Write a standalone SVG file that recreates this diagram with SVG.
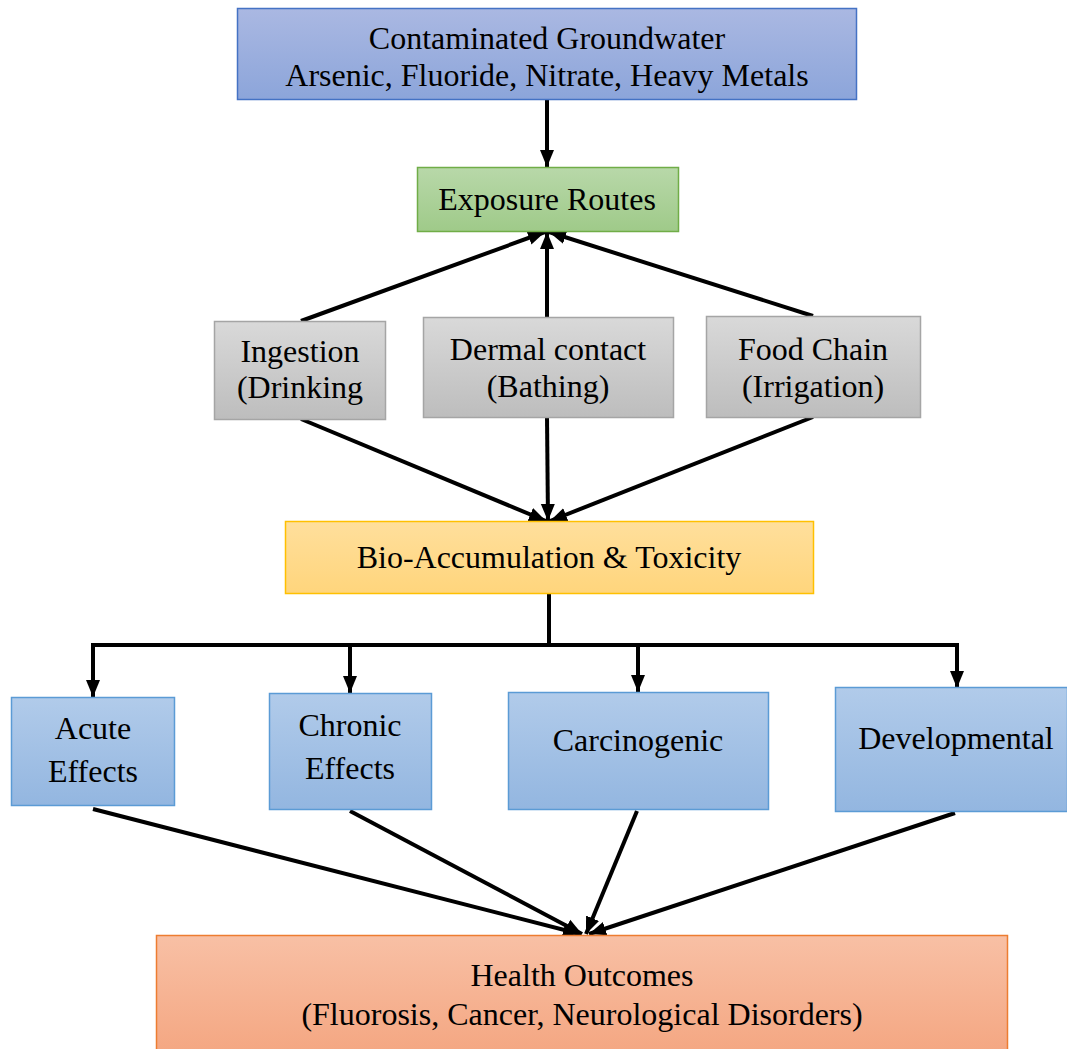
<svg xmlns="http://www.w3.org/2000/svg" width="1067" height="1049" viewBox="0 0 1067 1049">
<defs>
<linearGradient id="gBlueTop" x1="0" y1="0" x2="0" y2="1"><stop offset="0" stop-color="#aab8e2"/><stop offset="1" stop-color="#8ca5da"/></linearGradient>
<linearGradient id="gGreen" x1="0" y1="0" x2="0" y2="1"><stop offset="0" stop-color="#b8d8a9"/><stop offset="1" stop-color="#9fca89"/></linearGradient>
<linearGradient id="gGray" x1="0" y1="0" x2="0" y2="1"><stop offset="0" stop-color="#d9d9d9"/><stop offset="1" stop-color="#bdbdbd"/></linearGradient>
<linearGradient id="gYellow" x1="0" y1="0" x2="0" y2="1"><stop offset="0" stop-color="#ffdf9c"/><stop offset="1" stop-color="#ffd57c"/></linearGradient>
<linearGradient id="gBlue" x1="0" y1="0" x2="0" y2="1"><stop offset="0" stop-color="#b1cbea"/><stop offset="1" stop-color="#93b6e0"/></linearGradient>
<linearGradient id="gOrange" x1="0" y1="0" x2="0" y2="1"><stop offset="0" stop-color="#f8c0a5"/><stop offset="1" stop-color="#f4a681"/></linearGradient>
<marker id="arr" markerUnits="userSpaceOnUse" markerWidth="18" markerHeight="18" viewBox="0 0 18 18" refX="17" refY="9" orient="auto">
<path d="M0,2 L17,9 L0,16 Z" fill="#000"/>
</marker>
<style>
text{font-family:"Liberation Serif","Times New Roman",serif;font-size:32px;fill:#000;text-anchor:middle}
.con line,.con path{stroke:#000;stroke-width:4;fill:none}
.arw{marker-end:url(#arr)}
</style>
</defs>

<g id="connectors" class="con">
<line class="arw" x1="547" y1="99" x2="547" y2="167"/>
<line class="arw" x1="301" y1="321" x2="545" y2="232"/>
<line class="arw" x1="547" y1="317" x2="547" y2="232"/>
<line class="arw" x1="813" y1="316" x2="549" y2="232"/>
<line class="arw" x1="301" y1="419" x2="546" y2="521"/>
<line class="arw" x1="547" y1="417" x2="548" y2="521"/>
<line class="arw" x1="813" y1="417" x2="550" y2="521"/>
<path d="M549,593 L549,645 M91,645 L959,645"/>
<line class="arw" x1="93" y1="643" x2="93" y2="697"/>
<line class="arw" x1="350" y1="643" x2="350" y2="693"/>
<line class="arw" x1="638" y1="643" x2="638" y2="692"/>
<line class="arw" x1="957" y1="643" x2="957" y2="688"/>
<line class="arw" x1="93" y1="809" x2="580" y2="934"/>
<line class="arw" x1="350" y1="811" x2="582" y2="934"/>
<line class="arw" x1="637" y1="811" x2="586" y2="934"/>
<line class="arw" x1="955" y1="813" x2="589" y2="934"/>
</g>

<g id="contaminated">
<rect x="237.5" y="8.5" width="619" height="91" fill="url(#gBlueTop)" stroke="#4472c4" stroke-width="1.5"/>
<text x="547" y="49">Contaminated Groundwater</text>
<text x="547" y="86">Arsenic, Fluoride, Nitrate, Heavy Metals</text>
</g>

<g id="exposure">
<rect x="417.5" y="167.5" width="261" height="64" fill="url(#gGreen)" stroke="#70ad47" stroke-width="1.5"/>
<text x="547" y="210">Exposure Routes</text>
</g>

<g id="ingestion">
<rect x="214.5" y="321.5" width="171" height="98" fill="url(#gGray)" stroke="#a5a5a5" stroke-width="1.5"/>
<text x="300" y="362">Ingestion</text>
<text x="300" y="398">(Drinking</text>
</g>

<g id="dermal">
<rect x="423.5" y="317.5" width="250" height="100" fill="url(#gGray)" stroke="#a5a5a5" stroke-width="1.5"/>
<text x="548" y="360">Dermal contact</text>
<text x="548" y="397">(Bathing)</text>
</g>

<g id="foodchain">
<rect x="706.5" y="316.5" width="214" height="101" fill="url(#gGray)" stroke="#a5a5a5" stroke-width="1.5"/>
<text x="813" y="360">Food Chain</text>
<text x="813" y="397">(Irrigation)</text>
</g>

<g id="bioaccumulation">
<rect x="285.5" y="521.5" width="528" height="72" fill="url(#gYellow)" stroke="#ffc000" stroke-width="1.5"/>
<text x="549" y="568">Bio-Accumulation &amp; Toxicity</text>
</g>

<g id="acute">
<rect x="11.5" y="697.5" width="163" height="108" fill="url(#gBlue)" stroke="#5b9bd5" stroke-width="1.5"/>
<text x="93" y="739">Acute</text>
<text x="93" y="782">Effects</text>
</g>

<g id="chronic">
<rect x="269.5" y="693.5" width="162" height="116" fill="url(#gBlue)" stroke="#5b9bd5" stroke-width="1.5"/>
<text x="350" y="736">Chronic</text>
<text x="350" y="779">Effects</text>
</g>

<g id="carcinogenic">
<rect x="508.5" y="692.5" width="260" height="117" fill="url(#gBlue)" stroke="#5b9bd5" stroke-width="1.5"/>
<text x="638" y="751">Carcinogenic</text>
</g>

<g id="developmental">
<rect x="835.5" y="687.5" width="232" height="124" fill="url(#gBlue)" stroke="#5b9bd5" stroke-width="1.5"/>
<text x="956" y="749">Developmental</text>
</g>

<g id="health">
<rect x="156.5" y="935.5" width="851" height="120" fill="url(#gOrange)" stroke="#ed7d31" stroke-width="1.5"/>
<text x="582" y="986">Health Outcomes</text>
<text x="582" y="1025">(Fluorosis, Cancer, Neurological Disorders)</text>
</g>
</svg>
